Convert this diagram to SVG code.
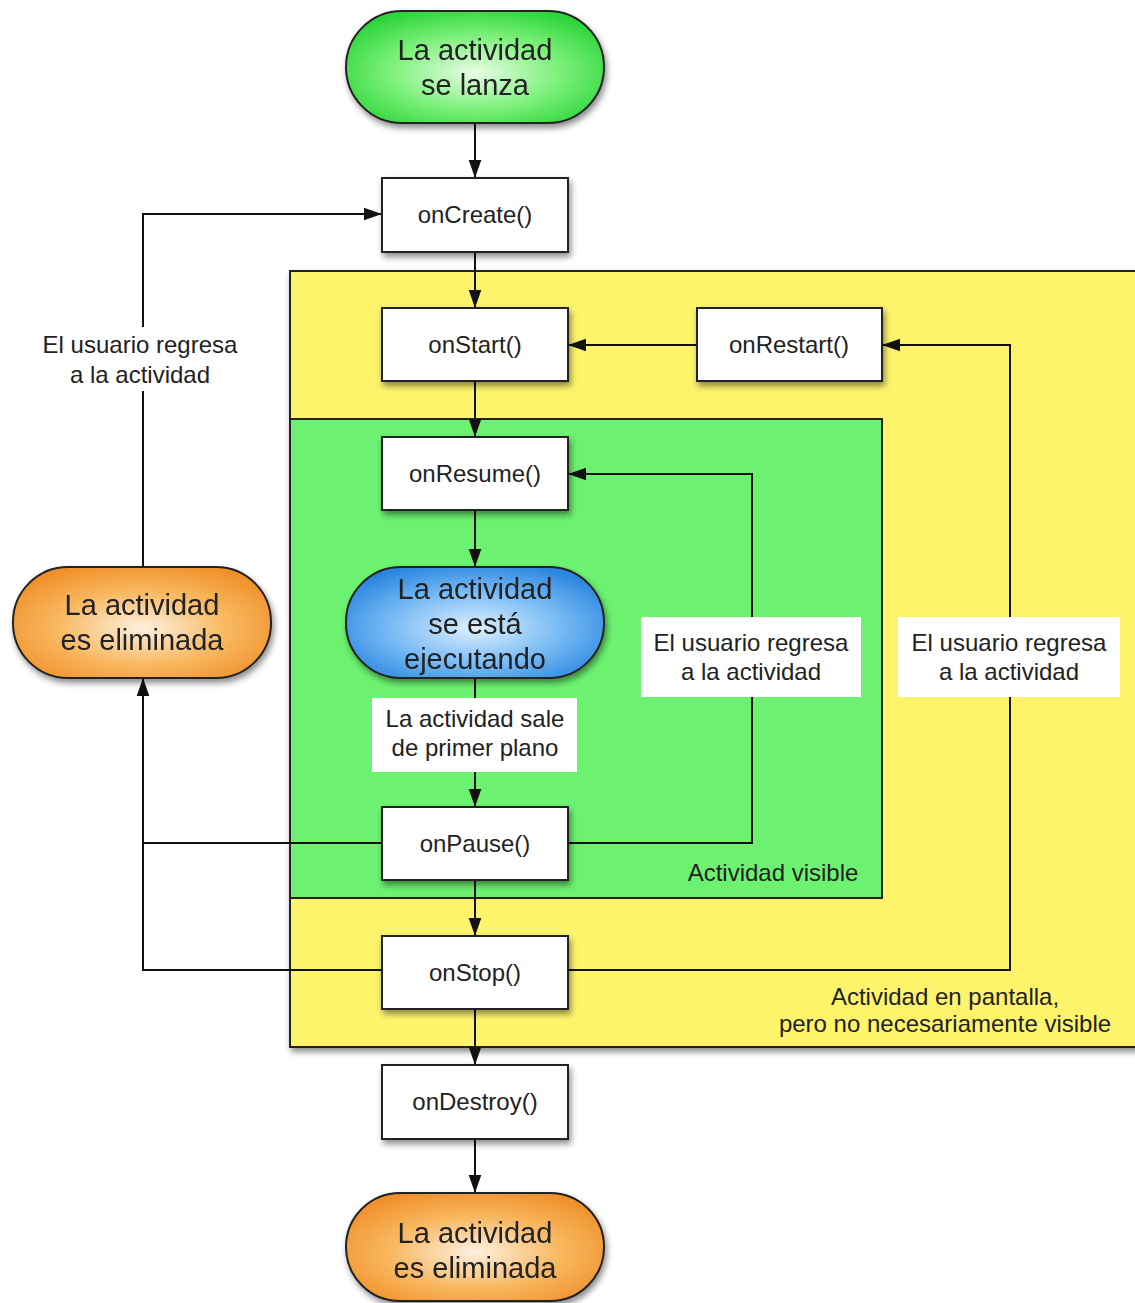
<svg xmlns="http://www.w3.org/2000/svg" width="1135" height="1303" viewBox="0 0 1135 1303">
<style>
text{font-family:"Liberation Sans",Arial,sans-serif;fill:#222;text-anchor:middle}
.box{fill:#fff;stroke:#222;stroke-width:2}
.bt{font-size:24px}
.pt{font-size:29px}
.lt{font-size:24px}
.edge{fill:none;stroke:#111;stroke-width:2}
.lbl{fill:#fff}
</style>
<defs>
<filter id="sh" x="-20%" y="-20%" width="150%" height="160%">
<feDropShadow dx="2" dy="4" stdDeviation="3" flood-color="#000" flood-opacity="0.45"/>
</filter>
<radialGradient id="gG" cx="50%" cy="55%" r="60%">
<stop offset="0" stop-color="#e8fde6"/><stop offset="0.55" stop-color="#7cf07a"/><stop offset="1" stop-color="#2cd43a"/>
</radialGradient>
<radialGradient id="gO" cx="50%" cy="55%" r="60%">
<stop offset="0" stop-color="#fdf0e0"/><stop offset="0.55" stop-color="#f8b860"/><stop offset="1" stop-color="#f0902a"/>
</radialGradient>
<radialGradient id="gB" cx="50%" cy="55%" r="60%">
<stop offset="0" stop-color="#dff0ff"/><stop offset="0.55" stop-color="#78baf4"/><stop offset="1" stop-color="#2a86e0"/>
</radialGradient>
<marker id="ar" viewBox="0 0 10 10" refX="10" refY="5" markerWidth="18" markerHeight="18" orient="auto" markerUnits="userSpaceOnUse">
<path d="M0,1.5 L10,5 L0,8.5 z" fill="#111"/>
</marker>
</defs>

<g id="region-screen">
<rect x="290" y="271" width="848" height="776" fill="#fdf46c" stroke="#222" stroke-width="2" filter="url(#sh)"/>
<text class="lt" x="945" y="1005">Actividad en pantalla,</text>
<text class="lt" x="945" y="1032">pero no necesariamente visible</text>
</g>
<g id="region-visible">
<rect x="290" y="419" width="592" height="479" fill="#6cf270" stroke="#222" stroke-width="2"/>
<text class="lt" x="773" y="881">Actividad visible</text>
</g>

<g id="connectors">
<line class="edge" x1="475" y1="123" x2="475" y2="178" marker-end="url(#ar)"/>
<line class="edge" x1="475" y1="252" x2="475" y2="308" marker-end="url(#ar)"/>
<line class="edge" x1="475" y1="381" x2="475" y2="437" marker-end="url(#ar)"/>
<line class="edge" x1="475" y1="510" x2="475" y2="567" marker-end="url(#ar)"/>
<line class="edge" x1="475" y1="678" x2="475" y2="807" marker-end="url(#ar)"/>
<line class="edge" x1="475" y1="880" x2="475" y2="936" marker-end="url(#ar)"/>
<line class="edge" x1="475" y1="1009" x2="475" y2="1065" marker-end="url(#ar)"/>
<line class="edge" x1="475" y1="1139" x2="475" y2="1193" marker-end="url(#ar)"/>
<line class="edge" x1="697" y1="345" x2="568" y2="345" marker-end="url(#ar)"/>
<polyline class="edge" points="568,970 1010,970 1010,345 882,345" marker-end="url(#ar)"/>
<polyline class="edge" points="568,843 752,843 752,474 568,474" marker-end="url(#ar)"/>
<polyline class="edge" points="382,843 143,843"/>
<polyline class="edge" points="382,970 143,970 143,678" marker-end="url(#ar)"/>
<polyline class="edge" points="143,567 143,214 382,214" marker-end="url(#ar)"/>
<g id="label-left">
<rect class="lbl" x="30" y="327" width="226" height="64"/>
<text class="lt" x="140" y="353">El usuario regresa</text>
<text class="lt" x="140" y="383">a la actividad</text>
</g>
<g id="label-mid">
<rect class="lbl" x="641" y="617" width="220" height="80"/>
<text class="lt" x="751" y="651">El usuario regresa</text>
<text class="lt" x="751" y="680">a la actividad</text>
</g>
<g id="label-right">
<rect class="lbl" x="898" y="617" width="222" height="80"/>
<text class="lt" x="1009" y="651">El usuario regresa</text>
<text class="lt" x="1009" y="680">a la actividad</text>
</g>
<g id="label-pause">
<rect class="lbl" x="372" y="698" width="205" height="74"/>
<text class="lt" x="475" y="727">La actividad sale</text>
<text class="lt" x="475" y="756">de primer plano</text>
</g>
</g>

<g id="n-launch" filter="url(#sh)">
<rect x="346" y="11" width="258" height="112" rx="56" fill="url(#gG)" stroke="#222" stroke-width="2"/>
<text class="pt" x="475" y="60">La actividad</text>
<text class="pt" x="475" y="95">se lanza</text>
</g>
<g id="n-oncreate"><rect class="box" x="382" y="178" width="186" height="74" filter="url(#sh)"/><text class="bt" x="475" y="223">onCreate()</text></g>
<g id="n-onstart"><rect class="box" x="382" y="308" width="186" height="73" filter="url(#sh)"/><text class="bt" x="475" y="353">onStart()</text></g>
<g id="n-onrestart"><rect class="box" x="697" y="308" width="185" height="73" filter="url(#sh)"/><text class="bt" x="789" y="353">onRestart()</text></g>
<g id="n-onresume"><rect class="box" x="382" y="437" width="186" height="73" filter="url(#sh)"/><text class="bt" x="475" y="482">onResume()</text></g>
<g id="n-running" filter="url(#sh)">
<rect x="346" y="567" width="258" height="111" rx="55" fill="url(#gB)" stroke="#222" stroke-width="2"/>
<text class="pt" x="475" y="599">La actividad</text>
<text class="pt" x="475" y="634">se está</text>
<text class="pt" x="475" y="669">ejecutando</text>
</g>
<g id="n-onpause"><rect class="box" x="382" y="807" width="186" height="73" filter="url(#sh)"/><text class="bt" x="475" y="852">onPause()</text></g>
<g id="n-onstop"><rect class="box" x="382" y="936" width="186" height="73" filter="url(#sh)"/><text class="bt" x="475" y="981">onStop()</text></g>
<g id="n-ondestroy"><rect class="box" x="382" y="1065" width="186" height="74" filter="url(#sh)"/><text class="bt" x="475" y="1110">onDestroy()</text></g>
<g id="n-killed-left" filter="url(#sh)">
<rect x="13" y="567" width="258" height="111" rx="55" fill="url(#gO)" stroke="#222" stroke-width="2"/>
<text class="pt" x="142" y="615">La actividad</text>
<text class="pt" x="142" y="650">es eliminada</text>
</g>
<g id="n-killed-bottom" filter="url(#sh)">
<rect x="346" y="1193" width="258" height="108" rx="54" fill="url(#gO)" stroke="#222" stroke-width="2"/>
<text class="pt" x="475" y="1243">La actividad</text>
<text class="pt" x="475" y="1278">es eliminada</text>
</g>
</svg>
